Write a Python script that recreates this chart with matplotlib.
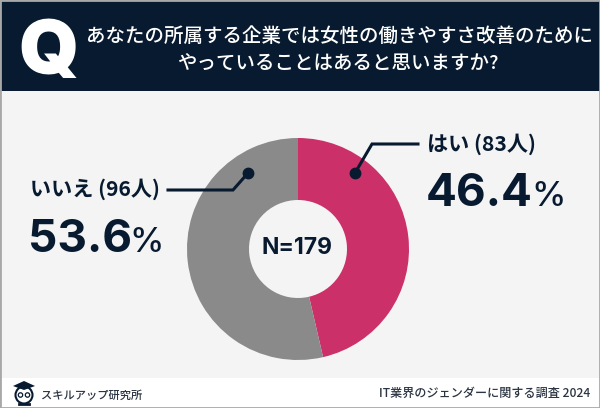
# -*- coding: utf-8 -*-
import matplotlib
matplotlib.use("Agg")
import matplotlib.pyplot as plt
from matplotlib.patches import Rectangle, Circle, Polygon

plt.rcParams['font.family'] = ['Noto Sans CJK JP', 'DejaVu Sans']

### Data
categories = ["はい", "いいえ"]
counts = [83, 96]
percents = ["46.4", "53.6"]
total = "N=179"
question = ["あなたの所属する企業では女性の働きやすさ改善のために",
            "やっていることはあると思いますか?"]
brand = "スキルアップ研究所"
survey = "IT業界のジェンダーに関する調査 2024"

navy = "#071a2f"
pink = "#cb3068"
grey = "#8a8a8a"
panel = "#f4f4f4"

### Canvas in pixels, y goes up
fig = plt.figure(figsize=(6.0, 4.08), dpi=100, facecolor="white")
ax = fig.add_axes([0, 0, 1, 1])
ax.set_xlim(0, 600)
ax.set_ylim(0, 408)
ax.axis("off")

# background bands
ax.add_patch(Rectangle((0, 30), 600, 288, fc=panel, ec="none", zorder=0))
ax.add_patch(Rectangle((0, 317), 600, 91, fc=navy, ec="none", zorder=1))
ax.add_patch(Rectangle((0, 0), 600, 408, fc="none", ec="#a8a8a8", lw=2, zorder=5))

# header
ax.text(48, 354, "Q", color="white", fontsize=55, fontweight="black", family="Inter",
        ha="center", va="center", zorder=2)
ax.text(339, 372, question[0], color="white", fontsize=14, fontweight="medium",
        ha="center", va="center", zorder=2)
ax.text(338, 345, question[1], color="white", fontsize=14, fontweight="medium",
        ha="center", va="center", zorder=2)

# donut
ax.pie(counts, colors=[pink, grey], startangle=90, counterclock=False,
       center=(298, 159), radius=111, frame=False,
       wedgeprops=dict(width=62, linewidth=0))
ax.set_xlim(0, 600)
ax.set_ylim(0, 408)
ax.set_aspect("equal")
ax.text(297, 160, total, color=navy, fontsize=16.5, fontweight="bold",
        family="Inter", ha="center", va="center")

# leader lines
ax.plot([355, 372, 418], [235, 264, 264], color=navy, lw=2.2, solid_joinstyle="miter")
ax.plot([355], [235], "o", color=navy, ms=7.5)
ax.plot([248, 233, 168], [235, 218, 218], color=navy, lw=2.2, solid_joinstyle="miter")
ax.plot([248], [235], "o", color=navy, ms=7.5)

# labels
ax.text(427, 264, f"{categories[0]} ({counts[0]}人)", color=navy, fontsize=15.2,
        fontweight="bold", ha="left", va="center")
ax.text(426, 202, percents[0], color=navy, fontsize=33, fontweight="bold",
        family="Inter", ha="left", va="baseline")
ax.text(531, 202, "%", color=navy, fontsize=25, fontweight="medium",
        family="Inter", ha="left", va="baseline")

ax.text(30, 219, f"{categories[1]} ({counts[1]}人)", color=navy, fontsize=15.2,
        fontweight="bold", ha="left", va="center")
ax.text(28, 156, percents[1], color=navy, fontsize=33, fontweight="bold",
        family="Inter", ha="left", va="baseline")
ax.text(129, 156, "%", color=navy, fontsize=25, fontweight="medium",
        family="Inter", ha="left", va="baseline")

# footer logo, small owl with a cap
ax.add_patch(Polygon([[13, 22], [24, 27], [35, 22], [24, 18]], fc=navy, ec="none", zorder=3))
ax.add_patch(Circle((24, 13), 8.5, fc="white", ec=navy, lw=1.5, zorder=2))
ax.add_patch(Circle((20.5, 13), 2.2, fc="white", ec=navy, lw=0.9, zorder=3))
ax.add_patch(Circle((27.5, 13), 2.2, fc="white", ec=navy, lw=0.9, zorder=3))
ax.plot([19, 29], [4, 4], color=navy, lw=2, zorder=3)

ax.text(41, 12, brand, color="#2b3442", fontsize=8.1, fontweight="medium",
        ha="left", va="center")
ax.text(590, 15, survey, color="#2b3442", fontsize=8.7, fontweight="medium",
        ha="right", va="center")

fig.savefig("out.png", dpi=100, facecolor="white")
